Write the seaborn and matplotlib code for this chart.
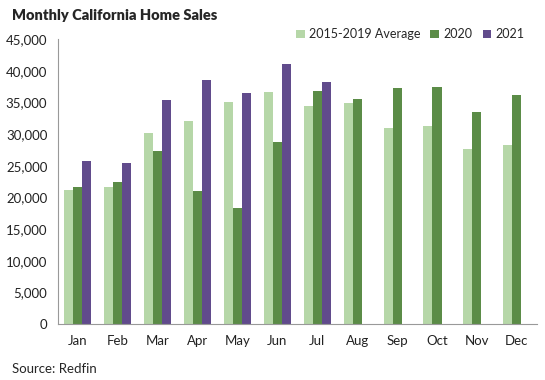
import numpy as np
import pandas as pd
import matplotlib.pyplot as plt
import seaborn as sns
from matplotlib.ticker import FuncFormatter, FixedLocator

months = ['Jan', 'Feb', 'Mar', 'Apr', 'May', 'Jun', 'Jul', 'Aug', 'Sep', 'Oct', 'Nov', 'Dec']
avg_2015_2019 = [21200, 21600, 30200, 32100, 35100, 36600, 34400, 34900, 30900, 31300, 27700, 28300]
sales_2020 = [21700, 22400, 27300, 21100, 18400, 28800, 36800, 35500, 37300, 37500, 33500, 36200]
sales_2021 = [25800, 25400, 35400, 38600, 36500, 41000, 38300, np.nan, np.nan, np.nan, np.nan, np.nan]

series = ['2015-2019 Average', '2020', '2021']
colors = ['#b6d7a8', '#5b8c47', '#614b8c']

df = pd.DataFrame({'Month': months, series[0]: avg_2015_2019,
                   series[1]: sales_2020, series[2]: sales_2021})
long_df = df.melt(id_vars='Month', var_name='Series', value_name='Sales')

sns.set_style("white")
plt.rcParams['font.family'] = ['Lato', 'DejaVu Sans']

fig = plt.figure(figsize=(5.45, 3.8), dpi=100)
ax = fig.add_axes([0.106, 0.147, 0.879, 0.75])

sns.barplot(data=long_df, x='Month', y='Sales', hue='Series', hue_order=series,
            palette=colors, width=0.68, gap=0, saturation=1, linewidth=0,
            ax=ax, legend=True)

ax.set_xlim(-0.5, 11.5)
ax.set_ylim(0, 45000)
ax.set_yticks(np.arange(0, 45001, 5000))
ax.yaxis.set_major_formatter(FuncFormatter(lambda v, p: f'{int(v):,}'))
ax.xaxis.set_minor_locator(FixedLocator(np.arange(-0.5, 12, 1)))
ax.tick_params(axis='x', which='major', length=0, pad=8, labelsize=9.5, colors='#222222')
ax.tick_params(axis='x', which='minor', length=4, color='#999999', width=0.8)
ax.tick_params(axis='y', length=4, color='#999999', width=0.8, labelsize=9.5, colors='#222222')
ax.set_xlabel('')
ax.set_ylabel('')
for s in ['top', 'right']:
    ax.spines[s].set_visible(False)
for s in ['left', 'bottom']:
    ax.spines[s].set_color('#999999')
    ax.spines[s].set_linewidth(0.8)

ax.legend(loc='upper right', bbox_to_anchor=(0.985, 1.055), ncol=3, frameon=False,
          fontsize=9, handlelength=0.7, handleheight=0.7, handletextpad=0.35,
          columnspacing=0.8, borderaxespad=0)

fig.text(0.022, 0.96, 'Monthly California Home Sales', fontsize=10.5, fontweight='heavy',
         va='center', ha='left')
fig.text(0.022, 0.028, 'Source: Redfin', fontsize=9.5, va='center', ha='left')

plt.savefig('out.png', dpi=100)
